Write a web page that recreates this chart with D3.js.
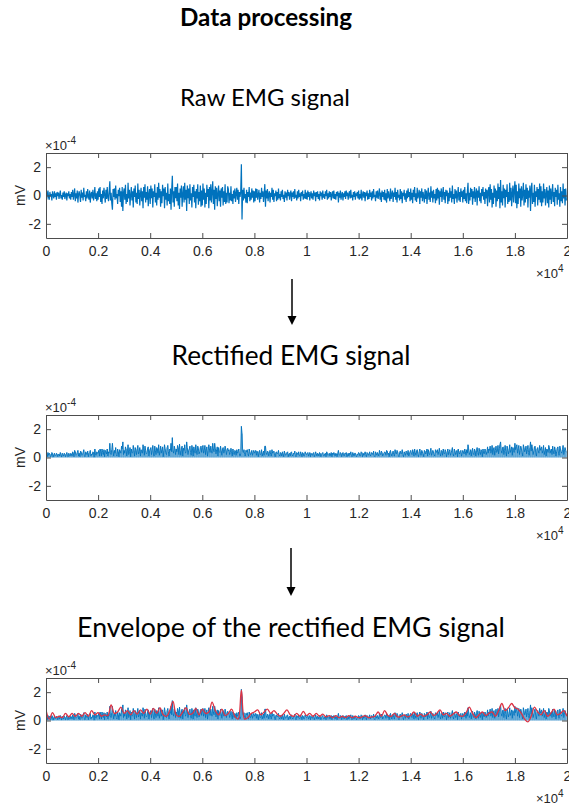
<!DOCTYPE html>
<html>
<head>
<meta charset="utf-8">
<script src="https://cdn.jsdelivr.net/npm/d3@7"></script>
<style>
  body { margin: 0; background: #fff; }
  svg { display: block; }
</style>
</head>
<body>
<script>
// samples between two stored values
var rawStep = 25,
  envStep = 125;

var xTicks = [0, 2000, 4000, 6000, 8000, 10000, 12000, 14000, 16000, 18000, 20000];
var xTickLabels = ["0", "0.2", "0.4", "0.6", "0.8", "1", "1.2", "1.4", "1.6", "1.8", "2"];
var yTicks = [-2, 0, 2];
var yTickLabels = ["-2", "0", "2"];

// raw EMG, units of 1e-4 mV, one value every 25 samples (40 per row)
var rawSignal = [
  0.2, -0.3, 0.05, 0.35, -0.15, -0.3, 0.25, -0.05, 0.1, -0.35, 0.3, 0.02, -0.2, 0.3, -0.1, 0.15, -0.3, 0.25, -0.05, 0.2,
  -0.25, 0.1, 0.35, -0.2, 0.03, -0.3, 0.2, -0.1, 0.3, -0.25, 0.05, 0.2, -0.35, 0.15, -0.05, 0.3, -0.2, 0.1, -0.3, 0.25,
  -0.1, 0.4, -0.3, 0.05, 0.5, -0.4, 0.15, -0.2, 0.35, -0.5, 0.1, 0.3, -0.05, -0.45, 0.4, -0.15, 0.2, -0.35, 0.55, -0.1,
  0.05, -0.4, 0.3, -0.2, 0.45, -0.05, -0.3, 0.35, -0.5, 0.1, 0.25, -0.2, 0.4, -0.35, 0.02, 0.6, -0.25, 0.15, -0.4, 0.3,
  -0.3, 0.5, -0.1, 0.6, -0.45, 0.1, -0.6, 0.35, -0.2, 0.55, 0.05, -0.5, 0.4, -0.25, 0.6, -0.1, -0.4, 0.3, 1.0, -0.35,
  0.2, -0.55, -1.0, 0.45, -0.1, 0.5, -0.3, 0.7, -0.2, 0.1, -0.6, 0.4, -0.05, 0.55, -0.45, 0.3, -0.8, 0.6, -1.1, 0.2,
  0.5, -0.3, 0.75, -0.6, 0.1, -0.45, 0.9, -0.2, 0.4, -0.7, 0.05, 0.6, -0.35, 0.3, -0.85, 0.5, -0.1, 0.7, -0.5, 0.2,
  -0.6, 0.85, -0.25, 0.4, -0.7, 0.1, 0.55, -0.4, 0.3, -0.9, 0.6, -0.15, 0.8, -0.5, 0.25, -0.3, 0.65, -0.75, 0.1, 0.45,
  -0.6, 0.7, -0.2, 0.5, -0.85, 0.3, -0.1, 0.8, -0.5, 0.2, -0.7, 0.6, -0.3, 0.9, -0.15, 0.45, -0.8, 0.3, -0.55, 0.75,
  -0.05, 0.5, -0.9, 0.6, -0.3, 0.2, -0.7, 0.85, -0.4, 0.1, -0.6, 0.5, -1.0, 0.4, 1.4, -0.5, 0.3, -0.8, 0.6, -0.2,
  0.6, -0.4, 0.85, -0.7, 0.2, -0.95, 0.5, -0.15, 0.7, -0.8, 0.1, 0.65, -0.5, 0.9, -0.3, 0.4, -1.1, 0.7, -0.2, 0.5,
  -0.6, 0.8, -0.35, 0.15, -0.85, 0.6, -0.1, 0.75, -0.5, 0.3, -0.9, 0.45, -0.2, 0.8, -0.65, 0.25, -0.4, 0.7, -0.8, 0.35,
  -0.7, 0.85, -0.3, 0.5, -0.85, 0.2, -0.6, 0.75, -0.1, 0.45, -0.9, 0.6, -0.35, 0.8, -0.5, 0.3, 1.0, -0.6, 0.4, -1.0,
  0.65, -0.25, 0.55, -0.75, 0.1, 0.7, -0.4, 0.35, -0.8, 0.5, -0.15, 0.6, -0.7, 0.3, -0.45, 0.8, -0.6, 0.2, -0.5, 0.65,
  0.45, -0.55, 0.2, -0.35, 0.65, -0.4, 0.1, -0.6, 0.35, -0.2, 0.5, -0.45, 0.15, 0.55, -0.3, 0.4, -0.6, 0.25, -0.1, 0.3,
  2.2, -1.7, 0.4, -0.35, 0.55, -0.2, 0.1, -0.5, 0.4, -0.55, 0.25, -0.1, 0.6, -0.4, 0.2, -0.3, 0.5, -0.15, 0.35, -0.5,
  0.3, -0.4, 0.5, -0.15, 0.45, -0.3, 0.05, 0.4, -0.5, 0.2, -0.25, 0.55, -0.1, 0.3, -0.45, 0.15, 0.8, -0.8, 0.35, -0.2,
  0.45, -0.4, 0.1, 0.3, -0.5, 0.2, -0.1, 0.55, -0.3, 0.4, -0.45, 0.15, -0.05, 0.35, -0.4, 0.25, -0.3, 0.5, -0.2, 0.1,
  -0.35, 0.3, -0.1, 0.4, -0.25, 0.05, -0.45, 0.3, -0.15, 0.2, -0.35, 0.4, -0.05, 0.25, -0.3, 0.1, 0.35, -0.4, 0.2, -0.1,
  0.3, -0.25, 0.45, -0.15, 0.05, -0.35, 0.3, -0.2, 0.4, -0.1, 0.15, -0.4, 0.25, -0.05, 0.35, -0.3, 0.1, -0.2, 0.4, -0.25,
  0.2, -0.3, 0.35, -0.1, 0.25, -0.35, 0.05, 0.3, -0.2, 0.15, -0.3, 0.35, -0.05, 0.2, -0.4, 0.25, -0.1, 0.3, -0.25, 0.1,
  -0.35, 0.3, -0.05, 0.2, -0.3, 0.35, -0.15, 0.1, -0.25, 0.3, -0.05, 0.4, -0.3, 0.15, -0.2, 0.3, -0.1, 0.25, -0.35, 0.05,
  0.3, -0.2, 0.35, -0.25, 0.1, -0.3, 0.25, -0.05, 0.3, -0.5, 0.2, -0.15, 0.35, -0.3, 0.05, 0.25, -0.35, 0.15, -0.1, 0.3,
  -0.25, 0.35, -0.05, 0.2, -0.3, 0.1, 0.3, -0.2, 0.4, -0.15, 0.05, -0.35, 0.25, -0.1, 0.3, -0.3, 0.15, -0.05, 0.25, -0.2,
  0.35, -0.3, 0.1, -0.2, 0.4, -0.35, 0.05, 0.3, -0.15, 0.25, -0.4, 0.2, -0.05, 0.35, -0.3, 0.15, -0.25, 0.4, -0.1, 0.2,
  -0.35, 0.3, -0.2, 0.45, -0.1, 0.05, -0.4, 0.3, -0.15, 0.35, -0.25, 0.1, 0.5, -0.3, 0.2, -0.45, 0.35, -0.1, 0.25, -0.3,
  0.4, -0.35, 0.15, -0.5, 0.45, -0.2, 0.3, -0.05, -0.4, 0.5, -0.25, 0.1, 0.35, -0.45, 0.2, -0.1, 0.55, -0.3, 0.25, -0.5,
  0.4, -0.15, 0.05, -0.35, 0.45, -0.25, 0.3, -0.55, 0.2, -0.05, 0.4, -0.3, 0.15, -0.45, 0.35, -0.2, 0.5, -0.1, 0.25, -0.4,
  0.5, -0.3, 0.2, -0.55, 0.4, -0.1, 0.6, -0.35, 0.15, -0.45, 0.55, -0.2, 0.05, 0.4, -0.6, 0.3, -0.15, 0.5, -0.4, 0.25,
  -0.05, -0.5, 0.45, -0.25, 0.35, -0.6, 0.1, 0.55, -0.3, 0.2, -0.45, 0.65, -0.15, 0.3, -0.5, 0.4, -0.2, 0.1, -0.55, 0.45,
  -0.35, 0.55, -0.2, 0.4, -0.65, 0.3, -0.1, 0.5, -0.45, 0.15, 0.6, -0.3, 0.25, -0.55, 0.4, -0.05, 0.35, -0.6, 0.2, -0.4,
  0.55, -0.15, 0.3, -0.5, 0.7, -0.25, 0.1, -0.6, 0.45, -0.2, 0.35, -0.5, 0.05, 0.6, -0.35, 0.25, -0.45, 0.5, -0.1, 0.3,
  -0.5, 0.4, -0.25, 0.6, -0.4, 0.15, -0.55, 0.3, 0.9, -0.6, 0.2, -0.35, 0.55, -0.1, 0.45, -0.65, 0.3, -0.2, 0.6, -0.45,
  0.1, 0.5, -0.7, 0.35, -0.15, 0.65, -0.4, 0.2, -0.55, 0.45, -0.05, 0.6, -0.3, 0.25, -0.6, 0.5, -0.2, 0.4, -0.75, 0.3,
  0.6, -0.5, 0.8, -0.3, 0.45, -0.85, 0.2, -0.6, 0.7, -0.15, 0.5, -0.8, 0.35, -0.4, 0.85, -0.25, 0.6, -0.9, 1.1, -0.5,
  0.3, -0.7, 0.75, -0.2, 0.5, -0.85, 0.4, -0.1, 0.8, -0.6, 0.25, -0.45, 0.9, -0.35, 0.55, -0.75, 0.15, 0.7, -0.5, 0.35,
  1.0, -0.55, 0.75, -0.9, 0.3, -0.6, 0.85, -0.2, 0.5, -0.8, 0.65, -0.35, 0.1, 0.9, -0.7, 0.4, -0.5, 0.8, -0.25, 0.55,
  -0.85, 0.35, -0.15, 0.7, -1.1, 0.45, 0.9, -0.6, 0.2, -0.45, 0.75, -0.8, 0.3, -0.1, 0.6, -0.7, 0.45, -0.3, 0.85, -0.5,
  0.65, -0.75, 0.3, -0.5, 0.85, -0.2, 0.45, -0.7, 0.1, 0.6, -0.55, 0.35, -0.85, 0.7, -0.3, 0.5, -0.6, 0.2, 0.8, -0.45,
  0.25, -0.75, 0.55, -0.1, 0.4, -0.65, 0.75, -0.3, 0.15, -0.8, 0.6, -0.4, 0.3, -0.55, 0.85, -0.2, 0.45, -0.7, 0.5, -0.35
];

// envelope of the rectified signal, one value every 125 samples
var envelope = [
  0.75, 0.1, 0.55, 0.2, 0.3, 0.2, 0.5, 0.25, 0.5, 0.3, 0.5, 0.3, 0.55, 0.3, 0.7, 0.4, 0.55, 0.3, 0.4, 0.35,
  1.1, 0.5, 0.6, 0.95, 0.5, 0.7, 0.4, 0.7, 0.45, 0.75, 0.5, 0.8, 0.45, 0.85, 0.5, 0.9, 0.4, 0.3, 0.7, 1.35,
  0.4, 0.3, 0.6, 0.9, 0.45, 0.5, 0.85, 0.4, 0.8, 0.5, 0.6, 1.3, 0.7, 0.4, 0.8, 0.35, 0.5, 0.8, 0.3, 0.1,
  2.15, 0.1, 0.2, 0.5, 0.6, 0.75, 0.4, 0.6, 0.8, 0.5, 0.7, 0.45, 0.3, 0.5, 0.75, 0.4, 0.3, 0.5, 0.3, 0.65,
  0.35, 0.5, 0.3, 0.5, 0.3, 0.45, 0.25, 0.35, 0.2, 0.35, 0.2, 0.3, 0.2, 0.35, 0.2, 0.3, 0.2, 0.25, 0.35, 0.2,
  0.25, 0.3, 0.6, 0.3, 0.7, 0.35, 0.3, 0.5, 0.25, 0.3, 0.4, 0.25, 0.35, 0.6, 0.3, 0.45, 0.3, 0.4, 0.6, 0.35,
  0.5, 0.75, 0.4, 0.5, 0.3, 0.45, 0.6, 0.35, 0.3, 0.55, 0.95, 0.5, 0.2, 0.4, 0.6, 0.35, 0.5, 0.6, 0.3, 0.7,
  1.2, 0.7, 0.9, 1.2, 0.9, 0.8, 0.5, 0.1, -0.1, 0.3, 0.95, 0.6, 0.4, 0.7, 0.3, 0.5, 0.8, 0.4, 0.5, 0.7,
  0.3
];

var rectified = rawSignal.map(Math.abs);

var W = 569, H = 805,
  left = 46, right = 567,
  plotH = 85,
  blue = "#0072bd",
  red = "#dd3344",
  axisColor = "#4d4d4d",
  textColor = "#262626",
  axisFont = "'Liberation Sans', Arial, sans-serif";

var svg = d3.select("body").append("svg")
  .attr("width", W)
  .attr("height", H);

var x = d3.scaleLinear().domain([0, 20000]).range([left, right]);

// headings: text, centre x, baseline, target width
var headings = [
  { text: "Data processing", cx: 266, y: 26, w: 172, bold: true, size: 22 },
  { text: "Raw EMG signal", cx: 265, y: 106, w: 170, bold: false, size: 24 },
  { text: "Rectified EMG signal", cx: 291, y: 365, w: 239, bold: false, size: 24 },
  { text: "Envelope of the rectified EMG signal", cx: 291, y: 637, w: 428, bold: false, size: 24 }
];

headings.forEach(function (h) {
  var t = svg.append("text")
    .attr("x", h.cx)
    .attr("y", h.y)
    .attr("text-anchor", "middle")
    .attr("font-family", "Lato, 'Open Sans', sans-serif")
    .attr("font-weight", h.bold ? "bold" : "normal")
    .attr("font-size", h.size)
    .attr("fill", "#000")
    .text(h.text);
  var len = t.node().getComputedTextLength();
  if (len > 0) {
    t.attr("font-size", h.size * h.w / len);
  }
});

// arrows between panels
var arrows = [[292, 279, 325], [291, 548, 596]];
arrows.forEach(function (a) {
  svg.append("line")
    .attr("x1", a[0]).attr("x2", a[0])
    .attr("y1", a[1]).attr("y2", a[2] - 7)
    .attr("stroke", "#000")
    .attr("stroke-width", 1.5);
  svg.append("path")
    .attr("d", "M" + (a[0] - 4.5) + "," + (a[2] - 9) + "L" + (a[0] + 4.5) + "," + (a[2] - 9) +
      "L" + a[0] + "," + a[2] + "Z")
    .attr("fill", "#000");
});

var drawPanel = function (top, idx, kind) {
  var y = d3.scaleLinear().domain([-3, 3]).range([top + plotH, top]),
    g = svg.append("g"),
    clipId = "clip" + idx,
    signal = kind === "raw" ? rawSignal : rectified;

  svg.append("clipPath").attr("id", clipId)
    .append("rect")
    .attr("x", left).attr("y", top)
    .attr("width", right - left).attr("height", plotH);

  var plot = g.append("g").attr("clip-path", "url(#" + clipId + ")");

  if (kind !== "raw") {
    // dense rectified trace: every sample reaches down to the baseline
    plot.selectAll("line.stem")
      .data(rectified)
      .join("line")
      .attr("class", "stem")
      .attr("x1", function (d, i) { return x(i * rawStep); })
      .attr("x2", function (d, i) { return x(i * rawStep); })
      .attr("y1", y(0))
      .attr("y2", function (d) { return y(d); })
      .attr("stroke", blue)
      .attr("stroke-width", 0.5);
  }

  plot.append("path")
    .datum(signal)
    .attr("fill", "none")
    .attr("stroke", blue)
    .attr("stroke-width", kind === "raw" ? 1.2 : 0.9)
    .attr("d", d3.line()
      .x(function (d, i) { return x(i * rawStep); })
      .y(function (d) { return y(d); }));

  if (kind === "envelope") {
    plot.append("path")
      .datum(envelope)
      .attr("fill", "none")
      .attr("stroke", red)
      .attr("stroke-width", 1.3)
      .attr("d", d3.line()
        .curve(d3.curveCatmullRom)
        .x(function (d, i) { return x(i * envStep); })
        .y(function (d) { return y(d); }));
  }

  // axes, ticks inside on all four sides
  var bottom = g.append("g")
    .attr("transform", "translate(0," + (top + plotH) + ")")
    .call(d3.axisBottom(x).tickValues(xTicks).tickSizeInner(-5).tickSizeOuter(0).tickPadding(8)
      .tickFormat(function (d, i) { return xTickLabels[i]; }));
  var topAxis = g.append("g")
    .attr("transform", "translate(0," + top + ")")
    .call(d3.axisTop(x).tickValues(xTicks).tickSizeInner(-5).tickSizeOuter(0).tickFormat(""));
  var leftAxis = g.append("g")
    .attr("transform", "translate(" + left + ",0)")
    .call(d3.axisLeft(y).tickValues(yTicks).tickSizeInner(-5).tickSizeOuter(0).tickPadding(5)
      .tickFormat(function (d, i) { return yTickLabels[i]; }));
  var rightAxis = g.append("g")
    .attr("transform", "translate(" + right + ",0)")
    .call(d3.axisRight(y).tickValues(yTicks).tickSizeInner(-5).tickSizeOuter(0).tickFormat(""));

  [bottom, topAxis, leftAxis, rightAxis].forEach(function (a) {
    a.selectAll("path.domain").attr("stroke", axisColor).attr("stroke-width", 1);
    a.selectAll(".tick line").attr("stroke", axisColor).attr("stroke-width", 1);
    a.selectAll(".tick text")
      .attr("fill", textColor)
      .attr("font-family", axisFont)
      .attr("font-size", 14);
  });

  // y label
  g.append("text")
    .attr("transform", "translate(25," + y(0) + ") rotate(-90)")
    .attr("text-anchor", "middle")
    .attr("fill", textColor)
    .attr("font-family", axisFont)
    .attr("font-size", 14)
    .text("mV");

  // exponent labels
  var ey = g.append("text")
    .attr("x", left - 1)
    .attr("y", top - 3)
    .attr("fill", textColor)
    .attr("font-family", axisFont)
    .attr("font-size", 13)
    .text("\u00d710");
  ey.append("tspan").attr("dy", -6).attr("font-size", 10).text("-4");

  var ex = g.append("text")
    .attr("x", right - 31)
    .attr("y", top + plotH + 40)
    .attr("fill", textColor)
    .attr("font-family", axisFont)
    .attr("font-size", 13)
    .text("\u00d710");
  ex.append("tspan").attr("dy", -6).attr("font-size", 10).text("4");
};

drawPanel(153, 0, "raw");
drawPanel(415, 1, "rect");
drawPanel(678, 2, "envelope");
</script>
</body>
</html>
